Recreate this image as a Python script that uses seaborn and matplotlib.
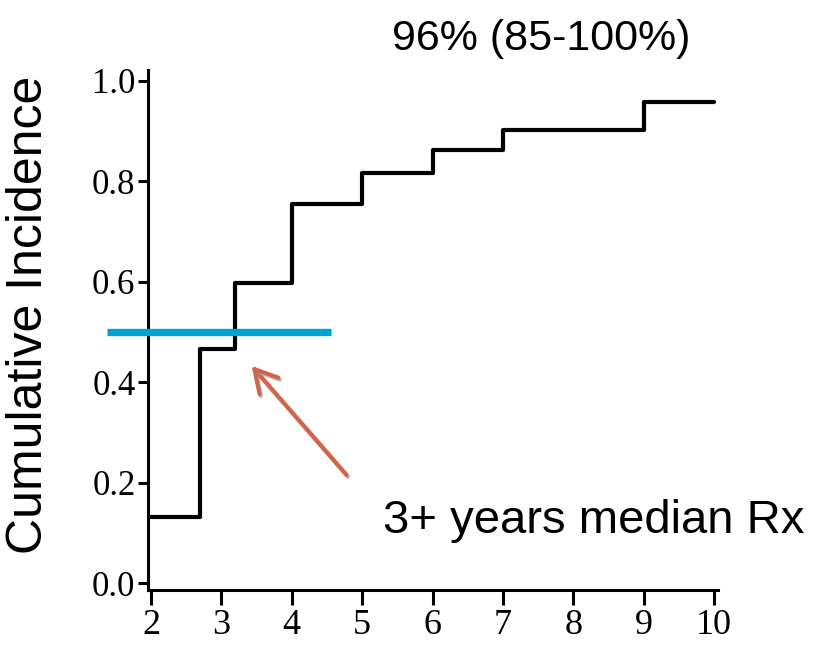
import matplotlib
matplotlib.use("Agg")
import matplotlib.pyplot as plt
import matplotlib.patheffects as pe
import pandas as pd
import seaborn as sns

# cumulative incidence by year (step function)
years = [2, 2.7, 3.2, 4, 5, 6, 7, 9, 10]
incidence = [0.131, 0.466, 0.598, 0.755, 0.817, 0.861, 0.902, 0.958, 0.958]

x_ticks = [2, 3, 4, 5, 6, 7, 8, 9, 10]
y_ticks = [0.0, 0.2, 0.4, 0.6, 0.8, 1.0]

median_level = 0.5
median_span = [1.375, 4.557]
arrow_tip = (3.43, 0.432)
arrow_tail = (4.78, 0.215)

title_text = "96% (85-100%)"
note_text = "3+ years median Rx"
ylabel_text = "Cumulative Incidence"

sns.set_style("ticks")
plt.rcParams["text.color"] = "black"
plt.rcParams["xtick.color"] = "black"
plt.rcParams["ytick.color"] = "black"

fig = plt.figure(figsize=(8.17, 6.49), dpi=100)
ax = fig.add_axes([0.1811, 0.0909, 0.6977, 0.8012])

df = pd.DataFrame({"year": years, "ci": incidence})
sns.lineplot(
    data=df,
    x="year",
    y="ci",
    drawstyle="steps-post",
    color="black",
    linewidth=3,
    ax=ax,
)

ax.set_xlim(1.957, 10.054)
ax.set_ylim(-0.0139, 1.021)
ax.set_xticks(x_ticks)
ax.set_yticks(y_ticks)
ax.set_xticklabels([str(t) for t in x_ticks], family="Liberation Serif", fontsize=26, color="black")
ax.set_yticklabels([f"{t:.1f}" for t in y_ticks], family="Liberation Serif", fontsize=25, color="black")
ax.tick_params(axis="x", length=11, width=2.2, color="black", pad=3)
ax.tick_params(axis="y", length=7, width=2.2, color="black", pad=2)
for side in ["top", "right"]:
    ax.spines[side].set_visible(False)
for side in ["left", "bottom"]:
    ax.spines[side].set_linewidth(2.2)
    ax.spines[side].set_color("black")
ax.set_xlabel("")
ax.set_ylabel("")

# median line
ax.hlines(
    median_level,
    median_span[0],
    median_span[1],
    color="#00A2D3",
    linewidth=5.3,
    clip_on=False,
    zorder=5,
)

# arrow
ax.annotate(
    "",
    xy=arrow_tip,
    xytext=arrow_tail,
    arrowprops=dict(
        arrowstyle="->,head_length=0.8,head_width=0.45",
        color="#D0654A",
        linewidth=3,
        mutation_scale=20,
        shrinkA=0,
        shrinkB=0,
        path_effects=[pe.SimpleLineShadow(offset=(1, -1.5), shadow_color="0.6", alpha=0.6), pe.Normal()],
    ),
)

fig.text(
    541 / 817,
    1 - 50 / 649,
    title_text,
    ha="center",
    va="baseline",
    fontsize=31,
    color="black",
    family=["Liberation Sans", "DejaVu Sans"],
)
fig.text(
    383 / 817,
    1 - 533 / 649,
    note_text,
    ha="left",
    va="baseline",
    fontsize=34,
    color="black",
    family=["Liberation Sans", "DejaVu Sans"],
)
fig.text(
    29 / 817,
    1 - 315 / 649,
    ylabel_text,
    ha="center",
    va="center",
    rotation=90,
    fontsize=36,
    color="black",
    family=["Liberation Sans", "DejaVu Sans"],
)

fig.savefig("out.png", dpi=100)
